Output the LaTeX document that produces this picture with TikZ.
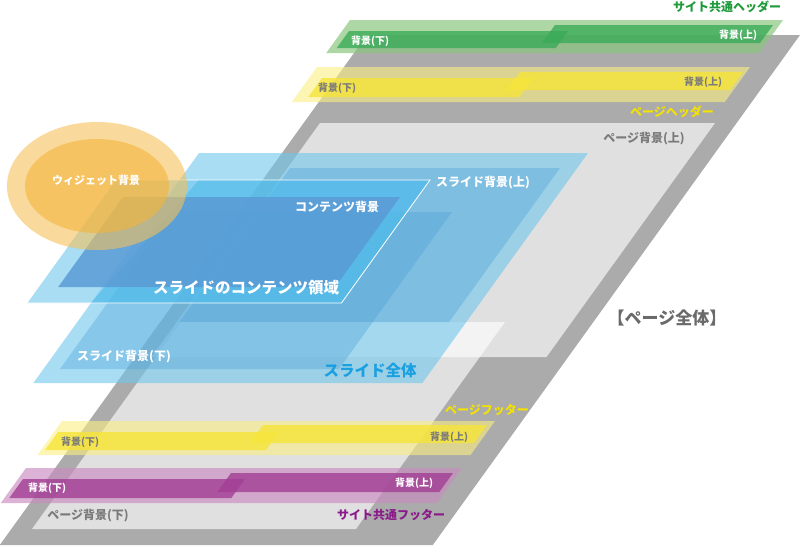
\documentclass[tikz,border=0pt]{standalone}
\usepackage{fontspec}
\setmainfont{Noto Sans CJK JP}
\definecolor{pagedark}{HTML}{ABABAB}
\definecolor{slideblue}{HTML}{6EC6ED}
\definecolor{areablue}{HTML}{3FB4E8}
\definecolor{bgblue}{HTML}{4A9FD8}
\definecolor{cbgblue}{HTML}{5A9BD5}
\definecolor{grnouter}{HTML}{8BC680}
\definecolor{grnbar}{HTML}{3AAB58}
\definecolor{ylwouter}{HTML}{FAEE80}
\definecolor{ylwbar}{HTML}{F6E53A}
\definecolor{prpouter}{HTML}{C98BC0}
\definecolor{prpbar}{HTML}{A23E94}
\definecolor{orgouter}{HTML}{F5C15A}
\definecolor{orginner}{HTML}{F4B53C}
\definecolor{grntext}{HTML}{1E9A3A}
\definecolor{ylwtext}{HTML}{F4E200}
\definecolor{prptext}{HTML}{8B1A8A}
\definecolor{graytext}{HTML}{7A7A7A}
\definecolor{pagetext}{HTML}{6A6A6A}
\definecolor{slidetext}{HTML}{1A9FE0}
\newcommand\pgm[5]{\fill[#1] (#4,#2) -- (#5,#2) -- ({#5-0.72*(#3-#2)},#3) -- ({#4-0.72*(#3-#2)},#3) -- cycle;}
\tikzset{
  lbl/.style={font=\bfseries\fontsize{10}{10}\selectfont, inner sep=0pt},
  mid/.style={font=\bfseries\fontsize{12}{12}\selectfont, inner sep=0pt},
  big/.style={font=\bfseries\fontsize{15.5}{16}\selectfont, inner sep=0pt},
  pagebg/.style={white, fill opacity=0.64},
}
\begin{document}
\begin{tikzpicture}[x=1pt,y=-1pt]
\useasboundingbox (0,0) rectangle (800,546);
% page
\pgm{pagedark}{35}{545}{367}{800}
\pgm{pagebg}{123}{357}{320}{715}
\pgm{pagebg}{322}{529}{181}{505}
% header green
\pgm{grnouter,fill opacity=0.7}{20}{53}{350}{783}
\pgm{grnbar,fill opacity=0.8}{31}{48}{349}{568}
\pgm{grnbar,fill opacity=0.8}{25}{43}{555}{773}
% header yellow
\pgm{ylwouter,fill opacity=0.6}{67}{102}{317}{750}
\pgm{ylwbar,fill opacity=0.8}{78}{97}{322}{533}
\pgm{ylwbar,fill opacity=0.8}{72}{90}{520}{743}
% footer yellow
\pgm{ylwouter,fill opacity=0.6}{421}{455}{62}{495}
\pgm{ylwbar,fill opacity=0.8}{432}{450}{58}{279}
\pgm{ylwbar,fill opacity=0.8}{425}{443}{263}{487}
% footer purple
\pgm{prpouter,fill opacity=0.65}{468}{503}{26}{462}
\pgm{prpbar,fill opacity=0.8}{479}{498}{23}{245}
\pgm{prpbar,fill opacity=0.8}{473}{492}{231}{453}
% slide
\pgm{slideblue,fill opacity=0.6}{153}{383}{199}{588}
\pgm{bgblue,fill opacity=0.35}{168}{322}{290}{560}
\pgm{bgblue,fill opacity=0.35}{212}{369}{173}{452}
\pgm{slideblue,fill opacity=0.6}{180}{303}{116}{430}
\fill[areablue,fill opacity=0.45] (199,180) -- (430,180) -- ({430-0.72*123},303) -- (91,303) -- cycle;
\draw[white,line width=0.8pt] (116,180) -- (430,180) -- ({430-0.72*123},303) -- ({116-0.72*123},303);
\pgm{cbgblue,fill opacity=0.85}{197}{287}{123}{400}
% widget
\fill[orgouter,fill opacity=0.6] (97,186) ellipse [x radius=90, y radius=64];
\fill[orginner,fill opacity=0.6] (97,186) ellipse [x radius=72, y radius=47];
% labels
\node[mid,grntext] (tsh) at (727,7) {サイト共通ヘッダー};
\node[lbl,white] (g1) at (370,41) {背景(下)};
\node[lbl,white] (g2) at (738,35) {背景(上)};
\node[lbl,graytext] (y1) at (337,88) {背景(下)};
\node[lbl,graytext] (y2) at (703,82) {背景(上)};
\node[mid,ylwtext] (tph) at (672,112) {ページヘッダー};
\node[mid,graytext] (pbu) at (644,139) {ページ背景(上)};
\node[lbl,white,font=\bfseries\fontsize{11}{11}\selectfont] (wid) at (96,180) {ウィジェット背景};
\node[mid,white] (sbu) at (483,183) {スライド背景(上)};
\node[mid,white] (cbg) at (337,207) {コンテンツ背景};
\node[big,white] (car) at (246,288) {スライドのコンテンツ領域};
\node[big,pagetext,font=\bfseries\fontsize{17}{17}\selectfont] (all) at (667,318) {【ページ全体】};
\node[mid,white] (sbd) at (124,357) {スライド背景(下)};
\node[big,slidetext] (sall) at (370,371) {スライド全体};
\node[mid,ylwtext] (tpf) at (487,410) {ページフッター};
\node[lbl,graytext] (f1) at (80,442) {背景(下)};
\node[lbl,graytext] (f2) at (449,437) {背景(上)};
\node[lbl,white] (p1) at (47,488) {背景(下)};
\node[lbl,white] (p2) at (414,483) {背景(上)};
\node[mid,prptext] (tsf) at (391,515) {サイト共通フッター};
\node[mid,graytext] (pbd) at (88,516) {ページ背景(下)};
\end{tikzpicture}
\end{document}
